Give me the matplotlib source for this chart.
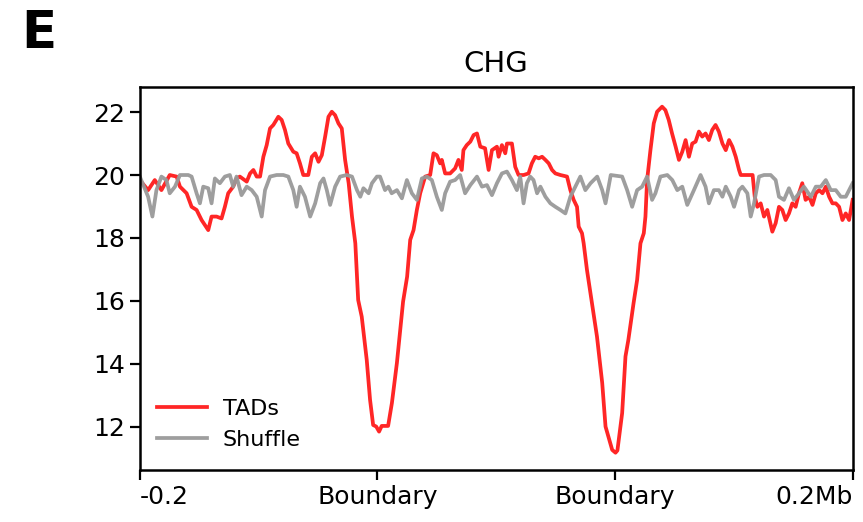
import matplotlib
matplotlib.use("Agg")
import matplotlib.pyplot as plt
import numpy as np

# ====== data (x = bin position, 0..300; 100 and 200 are the TAD boundaries) ======
tads_x = [0, 3.5, 6.3, 9.1, 12.6, 15.5, 16.9, 19.7, 21.8, 23.9, 26.0, 28.8, 30.2, 32.3, 34.4,
          35.8, 37.2, 39.3, 40.7, 42.1, 45.0, 46.4, 47.8, 49.2, 50.6, 52.0, 53.4, 54.8, 56.2,
          58.3, 59.7, 61.1, 62.5, 64.6, 66.0, 67.4, 68.8, 70.9, 72.4, 73.8, 75.2, 76.6, 78.0,
          79.4, 80.8, 82.2, 83.6, 85.0, 86.4, 87.9, 89.3, 90.7, 91.9, 93.4, 95.5, 96.9, 98.2,
          99.5, 100.7, 101.8, 104.5, 106.1, 108.2, 109.6, 110.8, 112.5, 113.8, 115.2, 116.6,
          118.0, 120.1, 122.2, 123.6, 125.0, 126.4, 127.1, 128.5, 130.6, 132.7, 134.1, 135.5,
          136.2, 137.6, 139.1, 140.5, 141.9, 143.3, 145.3, 146.8, 148.2, 150.3, 151.0, 152.4,
          153.8, 154.5, 156.6, 158.0, 159.4, 161.5, 163.6, 165.0, 166.4, 167.9, 169.3, 170.7,
          172.1, 173.5, 174.9, 177.0, 179.8, 181.2, 182.6, 184.0, 184.7, 186.1, 186.8, 188.2,
          190.3, 192.4, 194.6, 196.0, 198.8, 200.2, 201.0, 203.0, 204.4, 205.6, 207.8, 209.3,
          210.7, 212.1, 212.8, 213.5, 214.9, 216.3, 217.7, 219.8, 221.2, 222.6, 224.0, 225.5,
          226.9, 228.3, 229.7, 231.1, 232.5, 233.9, 235.3, 236.7, 238.1, 239.5, 240.9, 242.3,
          243.7, 245.2, 246.6, 248.0, 249.4, 250.8, 252.2, 252.9, 257.9, 258.8, 259.9, 261.3,
          262.7, 264.1, 266.2, 267.6, 269.0, 270.4, 271.8, 273.2, 274.6, 276.0, 277.4, 278.8,
          280.2, 281.7, 283.1, 284.5, 285.9, 287.3, 288.7, 290.1, 291.5, 292.9, 294.3, 295.7,
          297.1, 298.5, 300.0]
tads_y = [19.84, 19.52, 19.84, 19.52, 20.0, 19.95, 19.63, 19.42, 18.99, 18.89, 18.57, 18.25, 18.68,
          18.68, 18.62, 18.99, 19.42, 19.63, 19.89, 19.95, 19.79, 20.05, 20.16, 19.95, 19.95,
          20.58, 20.95, 21.48, 21.59, 21.85, 21.75, 21.43, 21.00, 20.74, 20.69, 20.37, 20.0,
          20.0, 20.58, 20.69, 20.42, 20.63, 21.22, 21.85, 22.01, 21.90, 21.64, 21.48, 20.48,
          19.74, 18.68, 17.83, 16.03, 15.5, 14.13, 12.86, 12.06, 12.01, 11.85, 12.03, 12.03,
          12.76, 14.03, 15.08, 15.98, 16.77, 17.94, 18.25, 18.89, 19.42, 19.95, 20.0, 20.69,
          20.63, 20.37, 20.48, 20.05, 20.05, 20.21, 20.48, 20.16, 20.79, 20.95, 21.06, 21.27,
          21.32, 20.90, 20.85, 20.16, 20.79, 20.90, 20.58, 20.95, 20.69, 21.0, 21.0, 20.26,
          20.0, 20.0, 20.05, 20.37, 20.58, 20.53, 20.58, 20.48, 20.37, 20.16, 20.05, 20.0,
          19.95, 19.52, 19.21, 18.99, 18.36, 18.15, 17.83, 16.98, 15.93, 14.87, 13.4, 12.01,
          11.27, 11.18, 11.25, 12.44, 14.24, 14.76, 15.93, 16.67, 17.83, 18.15, 18.68, 19.84,
          20.79, 21.64, 22.01, 22.17, 22.06, 21.75, 21.32, 20.90, 20.48, 20.74, 21.11, 20.58,
          21.0, 21.06, 21.38, 21.22, 21.32, 21.11, 21.43, 21.59, 21.38, 21.0, 20.79, 21.11,
          20.90, 20.58, 20.16, 20.0, 20.0, 19.31, 18.99, 19.10, 18.68, 18.89, 18.20, 18.47,
          18.99, 18.89, 18.57, 18.78, 19.10, 18.99, 19.42, 19.74, 19.21, 19.31, 19.05, 19.42,
          19.52, 19.42, 19.63, 19.31, 19.10, 19.10, 18.99, 18.57, 18.78, 18.57, 19.21]

shuffle_x = [0, 3.5, 5.3, 7.0, 9.1, 11.2, 12.6, 14.8, 16.9, 20.4, 21.8, 23.9, 25.3, 26.7, 28.8,
             30.2, 31.6, 33.7, 35.8, 37.9, 39.3, 40.7, 42.8, 45.0, 47.1, 49.2, 51.3, 52.7, 54.8,
             57.6, 60.4, 62.5, 64.6, 66.0, 67.4, 69.5, 71.7, 73.8, 75.9, 77.3, 78.7, 80.1, 82.2,
             84.3, 87.1, 89.3, 91.4, 92.8, 94.1, 96.3, 97.7, 99.8, 101.1, 103.2, 104.6, 106.0,
             108.2, 110.3, 112.4, 114.5, 116.6, 118.7, 120.8, 122.9, 125.0, 127.1, 128.5, 130.6,
             132.7, 134.8, 136.9, 139.1, 141.9, 144.0, 146.1, 148.2, 150.3, 152.4, 154.5, 156.6,
             158.7, 160.1, 161.5, 162.9, 164.3, 165.7, 167.2, 168.6, 170.7, 172.8, 174.9, 177.0,
             179.1, 181.2, 183.3, 185.4, 187.5, 189.7, 192.5, 194.6, 196.0, 198.2, 203.0, 205.1,
             207.2, 209.3, 211.4, 213.5, 215.6, 217.0, 219.1, 222.0, 224.1, 226.2, 228.3, 230.4,
             233.2, 236.0, 238.1, 239.5, 241.6, 243.7, 245.2, 246.6, 248.7, 250.1, 252.2, 253.6,
             255.7, 257.1, 258.5, 260.6, 262.7, 265.5, 267.6, 269.0, 271.1, 273.2, 275.3, 277.4,
             279.5, 282.4, 284.5, 286.6, 288.7, 290.8, 292.9, 295.0, 297.1, 298.5, 300.0]
shuffle_y = [19.95, 19.31, 18.68, 19.52, 19.95, 19.84, 19.42, 19.63, 20.0, 20.0, 19.95, 19.42,
             19.10, 19.63, 19.58, 19.10, 19.89, 19.74, 19.95, 20.0, 19.63, 19.95, 19.36, 19.63,
             19.52, 19.31, 18.68, 19.52, 19.95, 20.0, 20.0, 19.95, 19.52, 18.99, 19.63, 19.31,
             18.68, 19.10, 19.74, 19.89, 19.52, 19.05, 19.63, 19.95, 20.0, 19.95, 19.52, 19.31,
             19.58, 19.42, 19.74, 19.95, 19.95, 19.52, 19.63, 19.42, 19.52, 19.26, 19.84, 19.42,
             19.21, 19.89, 19.95, 19.84, 19.31, 18.89, 19.42, 19.79, 19.84, 20.0, 19.42, 19.68,
             19.95, 19.63, 19.68, 19.36, 19.74, 20.05, 20.11, 19.84, 19.52, 19.95, 19.10, 19.74,
             19.95, 19.84, 19.42, 19.63, 19.31, 19.10, 18.99, 18.89, 18.78, 19.31, 19.63, 19.95,
             19.52, 19.74, 19.95, 19.52, 19.10, 20.0, 19.95, 19.52, 18.99, 19.52, 19.63, 19.95,
             19.21, 19.42, 19.95, 20.0, 19.84, 19.52, 19.63, 19.05, 19.52, 20.0, 19.63, 19.10,
             19.52, 19.52, 19.31, 19.63, 19.31, 18.99, 19.52, 19.63, 19.42, 18.68, 19.10, 19.95,
             20.0, 20.0, 19.84, 19.31, 19.21, 19.58, 19.21, 19.42, 19.63, 19.31, 19.63, 19.63,
             19.84, 19.52, 19.52, 19.31, 19.31, 19.52, 19.74]

tick_pos = [0, 100, 200, 300]
tick_labels = ["-0.2", "Boundary", "Boundary", "0.2Mb"]
y_ticks = [12, 14, 16, 18, 20, 22]

# ====== plot ======
fig = plt.figure(figsize=(8.63, 5.22), dpi=100)
ax = fig.add_axes([0.162, 0.0996, 0.826, 0.7334])

ax.plot(tads_x, tads_y, color="#ff1a1a", linewidth=2.7, alpha=0.95, label="TADs")
ax.plot(shuffle_x, shuffle_y, color="#999999", linewidth=2.7, alpha=0.95, label="Shuffle")

ax.set_xlim(0, 300)
ax.set_ylim(10.63, 22.79)
ax.set_xticks(tick_pos)
ax.set_xticklabels(tick_labels)
ax.set_yticks(y_ticks)
ax.tick_params(labelsize=18, width=1.6, length=7)
# first/last x labels sit inside the axis ends
xl = ax.get_xticklabels()
xl[0].set_ha("left")
xl[-1].set_ha("right")
for s in ax.spines.values():
    s.set_linewidth(1.8)

ax.set_title("CHG", fontsize=21, pad=11)
ax.legend(loc="lower left", frameon=False, fontsize=16, handlelength=2.25,
          handletextpad=0.7, labelspacing=0.5, bbox_to_anchor=(-0.004, 0.0))

fig.text(0.025, 0.908, "E", fontsize=37, fontweight="bold")

plt.savefig("out.png", dpi=100)
plt.close()
